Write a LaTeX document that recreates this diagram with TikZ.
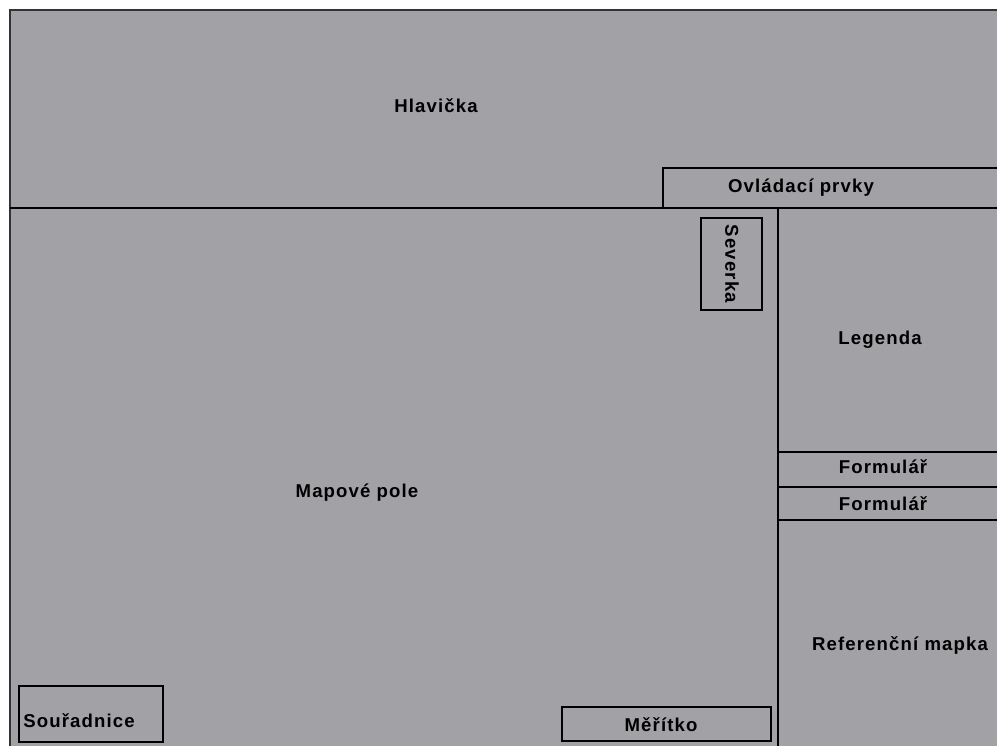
\documentclass[tikz,border=0pt]{standalone}
\usepackage{fontspec}
\setmainfont{Liberation Sans}[LetterSpace=6]
\definecolor{panelgray}{RGB}{162,161,166}
\tikzstyle{every node}=[font=\bfseries\fontsize{18.6}{22}\selectfont, inner sep=0pt]

\begin{document}
\begin{tikzpicture}[x=1pt, y=-1pt, line width=2.9pt]
\useasboundingbox (0, 0) rectangle (997, 746);
% Page
    \fill[panelgray] (10, 10) rectangle (1000, 750);
    \draw[line width=2pt, black!80] (10, 750) -- (10, 10) -- (1000, 10);
% Dividers
    \draw (10, 208) -- (1000, 208);
    \draw (778, 208) -- (778, 750);
    \draw (778, 452) -- (1000, 452);
    \draw (778, 487) -- (1000, 487);
    \draw (778, 520) -- (1000, 520);
% Boxes
    \draw (663, 208) -- (663, 168) -- (1000, 168);
    \draw (701, 218) rectangle (762, 310);
    \draw (19, 686) rectangle (163, 742);
    \draw (562, 707) rectangle (771, 741);
% Labels
    \node (hlavicka) at (436, 106) {Hlavička};
    \node (ovladani) at (801, 188) {Ovládací prvky};
    \node[rotate=-90] (severka) at (732, 264) {Severka};
    \node (legenda) at (880, 340) {Legenda};
    \node (formular1) at (883, 467) {Formulář};
    \node (formular2) at (883, 504) {Formulář};
    \node (mapa) at (357, 493) {Mapové pole};
    \node (refmapka) at (900, 645) {Referenční mapka};
    \node (souradnice) at (79, 721) {Souřadnice};
    \node (meritko) at (661, 725) {Měřítko};
\end{tikzpicture}
\end{document}
